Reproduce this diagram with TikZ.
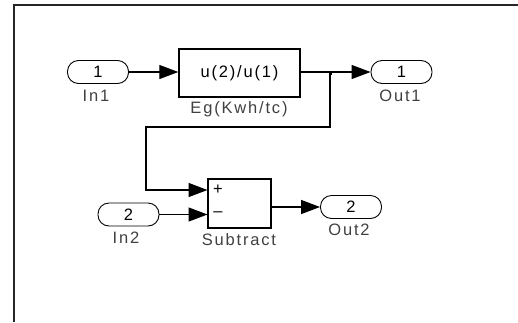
\documentclass[tikz,border=0pt]{standalone}
\usepackage{fontspec}
\setmainfont{Liberation Sans}[LetterSpace=11]
\usetikzlibrary{arrows.meta}
\begin{document}
\begin{tikzpicture}[x=1pt,y=-1pt,
  font=\fontsize{16.5}{18}\selectfont,
  wire/.style={line width=1.3pt},
  sig/.style={wire,-{Triangle[length=19pt,width=14pt]}},
  port/.style={draw,line width=0.9pt,rounded corners=11pt,minimum width=61pt,minimum height=23pt,inner sep=0pt},
  blk/.style={draw,line width=1.4pt,inner sep=0pt},
  lbl/.style={text=black!75,inner sep=0pt}]
\useasboundingbox (0,0) rectangle (518,322);
\draw[line width=2pt,black!85] (518,5) -- (14,5) -- (14,322);
% nodes
\node[port] (in1) at (98,72) {1};
\node[blk,minimum width=121pt,minimum height=48pt] (eg) at (239.5,73) {u(2)/u(1)};
\node[port] (out1) at (401.5,72) {1};
\node[blk,minimum width=63pt,minimum height=49pt] (sub) at (239.5,203.5) {};
\node[port] (in2) at (128.5,214.5) {2};
\node[port] (out2) at (351,207) {2};
\node[inner sep=0pt] (plus) at (218,190) {+};
\node[inner sep=0pt] (minus) at (218,214) {\textendash};
% labels
\node[lbl] (lin1) at (96,96) {In1};
\node[lbl] (leg) at (239,109) {Eg(Kwh/tc)};
\node[lbl] (lout1) at (400,96) {Out1};
\node[lbl] (lin2) at (126,238) {In2};
\node[lbl] (lsub) at (239,240) {Subtract};
\node[lbl] (lout2) at (349,230) {Out2};
% connectors
\coordinate (br) at (330,72);
\coordinate (c1) at (146,127);
\coordinate (sp) at (207.5,190);
\coordinate (sm) at (207.5,214.5);
\draw[sig] (in1.east) -- (eg.west |- in1.east);
\draw[sig] (eg.east |- out1.west) -- (out1.west);
\draw[sig] (br) |- (c1) |- (sp);
\draw[sig] (in2.east) -- (sm);
\draw[sig] (sub.east |- out2.west) -- (out2.west);
\fill (br) ++(-1.5,-1) rectangle ++(3.5,3.5);
\end{tikzpicture}
\end{document}
